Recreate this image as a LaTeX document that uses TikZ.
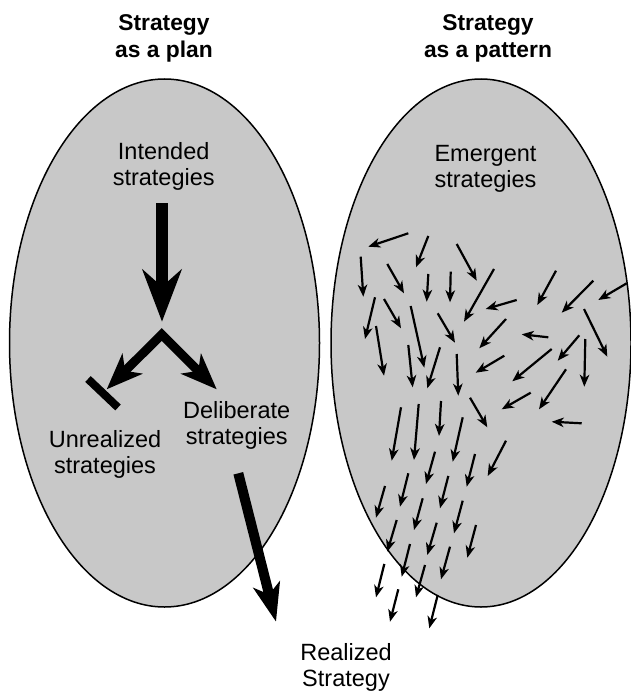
\documentclass[tikz,border=0pt]{standalone}
\usepackage{fontspec}
\setmainfont{Liberation Sans}
\usetikzlibrary{arrows.meta}
\definecolor{ovalgray}{RGB}{200,200,200}
\begin{document}
\begin{tikzpicture}[x=1pt,y=-1pt,
  blob/.style={draw=black, line width=1.5pt, fill=ovalgray},
  lbl/.style={font=\fontsize{23.5}{26}\selectfont, align=center, inner sep=0pt, anchor=base},
  ttl/.style={font=\fontsize{22.8}{27}\selectfont\bfseries, align=center, inner sep=0pt, anchor=base},
  small/.style={line width=2.2pt, -{Stealth[length=12pt,width=9.5pt,inset=3.5pt]}},
  bigdown/.style={line width=12.3pt, -{Stealth[length=52pt,width=39pt,inset=17pt]}},
  fork/.style={line width=9pt, line join=miter, {Stealth[length=36pt,width=28pt,inset=10pt]}-{Stealth[length=36pt,width=28pt,inset=10pt]}},
  realarrow/.style={line width=10pt, -{Stealth[length=38pt,width=27pt,inset=10pt]}},
  barline/.style={line width=8pt}]
\useasboundingbox (0,0) rectangle (631,693);
\fill[white] (0,0) rectangle (631,693);

% ovals
\draw[blob] (164.5,343) ellipse [x radius=155, y radius=264];
\draw[blob] (481,343) ellipse [x radius=150, y radius=264];

% titles (anchor = baseline of last line)
\node[ttl] (t1) at (164,57) {Strategy\\as a plan};
\node[ttl] (t2) at (488,57) {Strategy\\as a pattern};

% labels
\node[lbl] (intended) at (163.7,185) {Intended\\strategies};
\node[lbl] (emergent) at (485.5,187) {Emergent\\strategies};
\node[lbl] (unreal) at (105,473.3) {Unrealized\\strategies};
\node[lbl] (delib) at (236.7,444) {Deliberate\\strategies};
\node[lbl] (realized) at (346,686.7) {Realized\\Strategy};

% big arrows
\coordinate (v0) at (162,203.3);
\coordinate (v1) at (162,321.7);
\draw[bigdown] (v0) -- (v1);
\coordinate (apex) at (161.7,334.5);
\coordinate (ul) at (106.7,389.3);
\coordinate (dl) at (216.7,389.3);
\draw[fork] (ul) -- (apex) -- (dl);
\coordinate (b0) at (88,379);
\coordinate (b1) at (118,407.5);
\draw[barline] (b0) -- (b1);
\coordinate (r0) at (238.3,473.3);
\coordinate (r1) at (276,621.7);
\draw[realarrow] (r0) -- (r1);

% small arrows
\foreach \xa/\ya/\xb/\yb in {
408.3/233.3/368.3/246.7, 428.3/236/416/267.3, 456.7/244/476.7/280.7,
360.7/256.7/363.3/296.7, 387.3/264/404/293.3, 428.3/274/426.7/301.7,
450.7/271.7/450/302.3, 494/269/464/321.7, 556/270.7/537.3/305,
593.3/280.7/561.7/312.7, 626.7/283.3/598.3/300, 516.7/300/485.7/309,
375/297.3/365/339, 384/299/401/328.3, 410.7/306/424.3/367.7,
437.7/313.3/455/342.7, 506/319/479.3/348.3, 548.3/337.3/521.7/334.3,
584/309/607.3/356.7, 579.3/335.3/557.7/360.7, 376/326/384/375.7,
408.3/345/412.7/387.3, 440/347.3/427.3/388.3, 456.7/354/458.3/395.7,
504.3/355.7/475.7/372.7, 551.7/349/512.3/381.3, 585.3/339/584.3/386.7,
566/369.3/539/409.3, 530.7/392.7/501.7/409.3, 470/397.7/487.3/427.3,
581.7/423.3/551.7/421.7,
401/407.3/391.7/460.7, 418.7/404/414/460, 441/401/439/436,
462.7/417.3/452.7/461.7, 506/440.7/487.7/476, 435/451.7/426/484,
475/454/466.7/486.7, 385/486/376/517.7, 408.3/473.3/400/506.7,
448.3/476/440/508.3, 422.7/498.3/414/530, 462.7/500.7/454/533.3,
396.7/520/387.3/551.7, 436.7/522.7/427.3/555, 476/525/467.3/557.7,
410/544/401.7/576.7, 450/546.7/441/579.3, 384.3/564/376/597.3,
425/565/416/597.3, 398.3/589.3/390/621.7, 437.7/595/429.3/628.3}
{\draw[small] (\xa,\ya) -- (\xb,\yb);}
\end{tikzpicture}
\end{document}
